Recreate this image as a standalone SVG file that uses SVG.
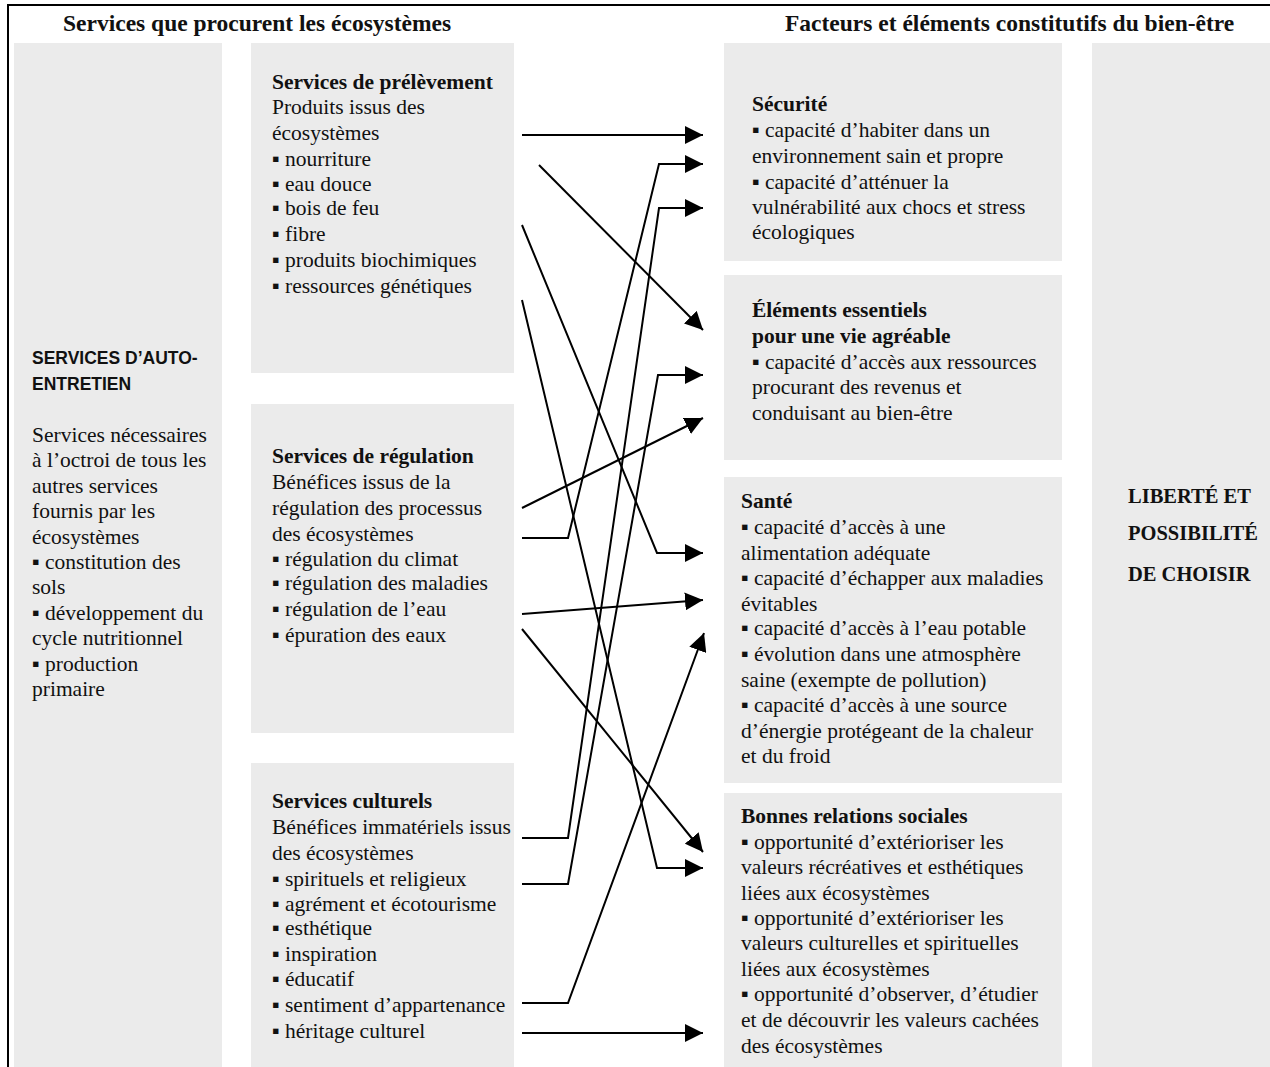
<svg xmlns="http://www.w3.org/2000/svg" width="1270" height="1067" viewBox="0 0 1270 1067">
<style>
  .box { fill: #ebebeb; }
  .t { font-family: "Liberation Serif", "Times New Roman", serif; font-size: 21.5px; fill: #111; }
  .b { font-weight: bold; }
  .h { font-family: "Liberation Serif", "Times New Roman", serif; font-size: 23.5px; font-weight: bold; fill: #111; }
  .s { font-family: "Liberation Sans", Arial, sans-serif; font-size: 17.5px; font-weight: bold; fill: #111; }
  .l { font-family: "Liberation Serif", "Times New Roman", serif; font-size: 20.5px; font-weight: bold; fill: #111; }
  .c { fill: none; stroke: #000; stroke-width: 2; marker-end: url(#ah); }
</style>
<defs>
  <marker id="ah" markerUnits="userSpaceOnUse" markerWidth="20" markerHeight="18" refX="18" refY="9" orient="auto">
    <path d="M0,0 L18,9 L0,18 Z" fill="#000"/>
  </marker>
</defs>
<rect x="0" y="0" width="1270" height="1067" fill="#fff"/>
<line x1="7" y1="5" x2="1270" y2="5" stroke="#000" stroke-width="2"/>
<line x1="8" y1="4" x2="8" y2="1067" stroke="#000" stroke-width="2"/>

<g id="headers">
  <text class="h" x="63" y="31">Services que procurent les écosystèmes</text>
  <text class="h" x="785" y="31">Facteurs et éléments  constitutifs du bien-être</text>
</g>

<g id="auto-entretien">
  <rect class="box" x="14" y="43" width="208" height="1024"/>
  <text class="s" x="32" y="364">SERVICES D’AUTO-</text>
  <text class="s" x="32" y="390">ENTRETIEN</text>
  <text class="t" x="32" y="442">Services nécessaires</text>
  <text class="t" x="32" y="467">à l’octroi de tous les</text>
  <text class="t" x="32" y="493">autres services</text>
  <text class="t" x="32" y="518">fournis par les</text>
  <text class="t" x="32" y="544">écosystèmes</text>
  <text class="t" x="32" y="569">▪ constitution des</text>
  <text class="t" x="32" y="594">sols</text>
  <text class="t" x="32" y="620">▪ développement du</text>
  <text class="t" x="32" y="645">cycle nutritionnel</text>
  <text class="t" x="32" y="671">▪ production</text>
  <text class="t" x="32" y="696">primaire</text>
</g>

<g id="prelevement">
  <rect class="box" x="251" y="43" width="263" height="330"/>
  <text class="t b" x="272" y="89">Services de prélèvement</text>
  <text class="t" x="272" y="114">Produits issus des</text>
  <text class="t" x="272" y="140">écosystèmes</text>
  <text class="t" x="272" y="166">▪ nourriture</text>
  <text class="t" x="272" y="191">▪ eau douce</text>
  <text class="t" x="272" y="215">▪ bois de feu</text>
  <text class="t" x="272" y="241">▪ fibre</text>
  <text class="t" x="272" y="267">▪ produits biochimiques</text>
  <text class="t" x="272" y="293">▪ ressources génétiques</text>
</g>

<g id="regulation">
  <rect class="box" x="251" y="404" width="263" height="329"/>
  <text class="t b" x="272" y="463">Services de régulation</text>
  <text class="t" x="272" y="489">Bénéfices issus de la</text>
  <text class="t" x="272" y="515">régulation des processus</text>
  <text class="t" x="272" y="541">des écosystèmes</text>
  <text class="t" x="272" y="566">▪ régulation du climat</text>
  <text class="t" x="272" y="590">▪ régulation des maladies</text>
  <text class="t" x="272" y="616">▪ régulation de l’eau</text>
  <text class="t" x="272" y="642">▪ épuration des eaux</text>
</g>

<g id="culturels">
  <rect class="box" x="251" y="763" width="263" height="304"/>
  <text class="t b" x="272" y="808">Services culturels</text>
  <text class="t" x="272" y="834">Bénéfices immatériels issus</text>
  <text class="t" x="272" y="860">des écosystèmes</text>
  <text class="t" x="272" y="886">▪ spirituels et religieux</text>
  <text class="t" x="272" y="911">▪ agrément et écotourisme</text>
  <text class="t" x="272" y="935">▪ esthétique</text>
  <text class="t" x="272" y="961">▪ inspiration</text>
  <text class="t" x="272" y="986">▪ éducatif</text>
  <text class="t" x="272" y="1012">▪ sentiment d’appartenance</text>
  <text class="t" x="272" y="1038">▪ héritage culturel</text>
</g>

<g id="securite">
  <rect class="box" x="724" y="43" width="338" height="218"/>
  <text class="t b" x="752" y="111">Sécurité</text>
  <text class="t" x="752" y="137">▪ capacité d’habiter dans un</text>
  <text class="t" x="752" y="163">environnement sain et propre</text>
  <text class="t" x="752" y="189">▪ capacité d’atténuer la</text>
  <text class="t" x="752" y="214">vulnérabilité aux chocs et stress</text>
  <text class="t" x="752" y="239">écologiques</text>
</g>

<g id="elements">
  <rect class="box" x="724" y="275" width="338" height="185"/>
  <text class="t b" x="752" y="317">Éléments essentiels</text>
  <text class="t b" x="752" y="343">pour une vie agréable</text>
  <text class="t" x="752" y="369">▪ capacité d’accès aux ressources</text>
  <text class="t" x="752" y="394">procurant des revenus et</text>
  <text class="t" x="752" y="420">conduisant au bien-être</text>
</g>

<g id="sante">
  <rect class="box" x="724" y="477" width="338" height="306"/>
  <text class="t b" x="741" y="508">Santé</text>
  <text class="t" x="741" y="534">▪ capacité d’accès à une</text>
  <text class="t" x="741" y="560">alimentation adéquate</text>
  <text class="t" x="741" y="585">▪ capacité d’échapper aux maladies</text>
  <text class="t" x="741" y="611">évitables</text>
  <text class="t" x="741" y="635">▪ capacité d’accès à l’eau potable</text>
  <text class="t" x="741" y="661">▪ évolution dans une atmosphère</text>
  <text class="t" x="741" y="687">saine (exempte de pollution)</text>
  <text class="t" x="741" y="712">▪ capacité d’accès à une source</text>
  <text class="t" x="741" y="738">d’énergie protégeant de la chaleur</text>
  <text class="t" x="741" y="763">et du froid</text>
</g>

<g id="relations">
  <rect class="box" x="724" y="793" width="338" height="274"/>
  <text class="t b" x="741" y="823">Bonnes relations sociales</text>
  <text class="t" x="741" y="849">▪ opportunité d’extérioriser les</text>
  <text class="t" x="741" y="874">valeurs récréatives et esthétiques</text>
  <text class="t" x="741" y="900">liées aux écosystèmes</text>
  <text class="t" x="741" y="925">▪ opportunité d’extérioriser les</text>
  <text class="t" x="741" y="950">valeurs culturelles et spirituelles</text>
  <text class="t" x="741" y="976">liées aux écosystèmes</text>
  <text class="t" x="741" y="1001">▪ opportunité d’observer, d’étudier</text>
  <text class="t" x="741" y="1027">et de découvrir les valeurs cachées</text>
  <text class="t" x="741" y="1053">des écosystèmes</text>
</g>

<g id="liberte">
  <rect class="box" x="1092" y="43" width="178" height="1024"/>
  <text class="l" x="1128" y="503">LIBERTÉ ET</text>
  <text class="l" x="1128" y="540">POSSIBILITÉ</text>
  <text class="l" x="1128" y="581">DE CHOISIR</text>
</g>

<g id="connectors">
  <path class="c" d="M522,135 L703,135"/>
  <path class="c" d="M539,165 L703,330"/>
  <path class="c" d="M522,225 L657,553 L703,553"/>
  <path class="c" d="M522,300 L657,868 L703,868"/>
  <path class="c" d="M522,508 L703,418"/>
  <path class="c" d="M522,538 L568,538 L659,164 L703,164"/>
  <path class="c" d="M522,614 L703,600"/>
  <path class="c" d="M522,629 L703,852"/>
  <path class="c" d="M522,838 L568,838 L659,208 L703,208"/>
  <path class="c" d="M522,884 L568,884 L658,375 L703,375"/>
  <path class="c" d="M522,1003 L568,1003 L704,633"/>
  <path class="c" d="M522,1033 L703,1033"/>
</g>
</svg>
